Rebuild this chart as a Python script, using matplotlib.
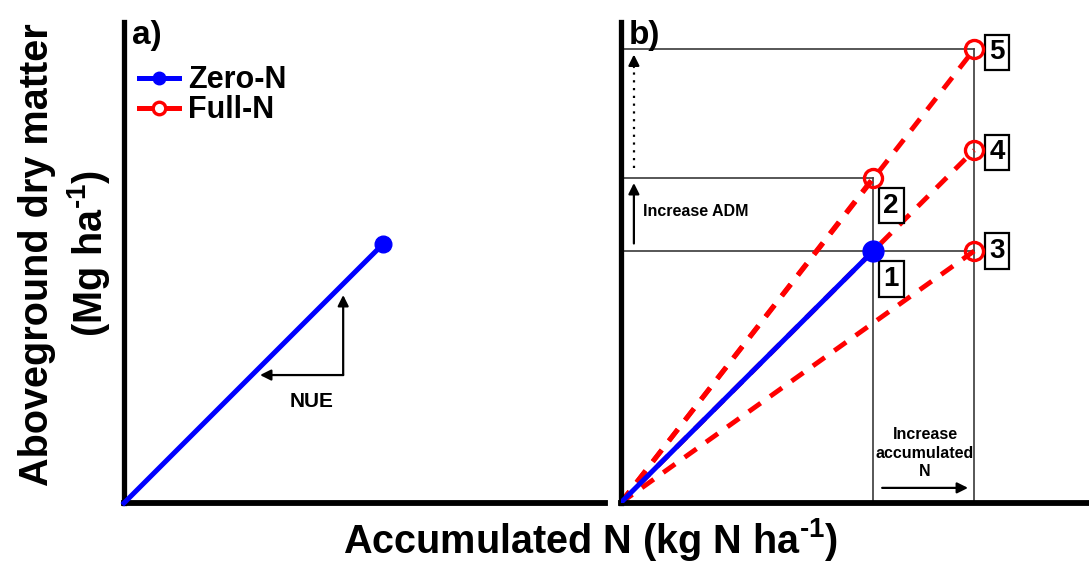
import matplotlib
matplotlib.use('Agg')
import matplotlib.pyplot as plt
from matplotlib.lines import Line2D

plt.rcParams['font.family'] = 'Liberation Sans'
plt.rcParams['font.weight'] = 'bold'
plt.rcParams['mathtext.fontset'] = 'custom'
plt.rcParams['mathtext.rm'] = 'Liberation Sans:bold'
plt.rcParams['mathtext.bf'] = 'Liberation Sans:bold'
plt.rcParams['mathtext.default'] = 'rm'

# conceptual values (arbitrary units)
zero_n_uptake = 100
zero_n_adm = 10
full_n_uptake = [100, 140, 140, 140]
full_n_adm = [12.9, 10, 14, 18]
full_n_ids = ['2', '3', '4', '5']

BLUE = '#0000ff'
RED = '#ff0000'
GREY = '#3a3a3a'

fig = plt.figure(figsize=(10.89, 5.66), dpi=100)
ax_a = fig.add_axes([0.1139, 0.1113, 0.4417, 0.8498])
ax_b = fig.add_axes([0.5698, 0.1113, 0.4302, 0.8498])

for ax in (ax_a, ax_b):
    for s in ('top', 'right'):
        ax.spines[s].set_visible(False)
    ax.spines['left'].set_linewidth(3.8)
    ax.spines['bottom'].set_linewidth(4.2)
    ax.set_xticks([])
    ax.set_yticks([])

ax_a.set_xlim(0, 185.7)
ax_a.set_ylim(0, 18.57)
ax_b.set_xlim(0, 185.5)
ax_b.set_ylim(0, 19.09)

# ---- panel a
ax_a.plot([0, zero_n_uptake], [0, zero_n_adm], color=BLUE, lw=3.6,
          marker='o', markevery=[1], ms=12, clip_on=False, zorder=3)
arrow = dict(arrowstyle='-|>', color='black', lw=1.6, mutation_scale=16,
             shrinkA=0, shrinkB=0)
ax_a.annotate('', xy=(52.5, 4.94), xytext=(84.6, 4.94), arrowprops=arrow)
ax_a.annotate('', xy=(84.6, 8.03), xytext=(84.6, 4.94), arrowprops=arrow)
ax_a.text(72.5, 3.9, 'NUE', ha='center', va='center', fontsize=15)
ax_a.text(0.016, 1.005, 'a)', transform=ax_a.transAxes, ha='left', va='top',
          fontsize=24)

handles = [Line2D([], [], color=BLUE, lw=3.6, marker='o', ms=9),
           Line2D([], [], color=RED, lw=3.6, marker='o', ms=9,
                  mfc='white', mew=2.4)]
ax_a.legend(handles, ['Zero-N', 'Full-N'], loc='upper left',
            bbox_to_anchor=(0.031, 0.91), frameon=False, fontsize=22,
            handlelength=1.3, handletextpad=0.3, labelspacing=0.0,
            borderpad=0, borderaxespad=0)

# ---- panel b: guide lines
guide_h = [(zero_n_adm, 140), (12.9, zero_n_uptake), (18, 140)]
guide_v = [(zero_n_uptake, 12.9), (140, 18)]
for y, x_end in guide_h:
    ax_b.plot([0, x_end], [y, y], color=GREY, lw=1.2, zorder=1)
for x, y_end in guide_v:
    ax_b.plot([x, x], [0, y_end], color=GREY, lw=1.2, zorder=1)

for x, y in zip(full_n_uptake, full_n_adm):
    ax_b.plot([0, x], [0, y], color=RED, lw=3.5, dashes=(3, 2.4), zorder=2)
    ax_b.plot([x], [y], 'o', color=RED, ms=13, mfc='none', mew=2.4,
              zorder=4, clip_on=False)
ax_b.plot([0, zero_n_uptake], [0, zero_n_adm], color=BLUE, lw=3.6, zorder=3)
ax_b.plot([zero_n_uptake], [zero_n_adm], 'o', color=BLUE, ms=15, zorder=5)

box = dict(boxstyle='square,pad=0.17', fc='white', ec='black', lw=1.6)
ax_b.annotate('1', (zero_n_uptake, zero_n_adm), xytext=(13, -20),
              textcoords='offset points', ha='center', va='center',
              fontsize=20, bbox=box)
offs = {'2': (13, -20), '3': (16.5, 0), '4': (16.5, -1.5), '5': (16.5, -2)}
for x, y, t in zip(full_n_uptake, full_n_adm, full_n_ids):
    ax_b.annotate(t, (x, y), xytext=offs[t], textcoords='offset points',
                  ha='center', va='center', fontsize=20, bbox=box)

ax_b.annotate('', xy=(5.3, 12.7), xytext=(5.3, 10.3), arrowprops=arrow)
ax_b.plot([5.3, 5.3], [13.3, 17.3], color='black', lw=1.6, ls=(0, (1, 2.5)))
ax_b.annotate('', xy=(5.3, 17.8), xytext=(5.3, 17.3), arrowprops=arrow)
ax_b.text(8.9, 11.55, 'Increase ADM', ha='left', va='center', fontsize=11.5)

ax_b.text(120.6, 1.98, 'Increase\naccumulated\nN', ha='center', va='center',
          fontsize=11.5, linespacing=1.3)
ax_b.annotate('', xy=(137.6, 0.6), xytext=(103.6, 0.6), arrowprops=arrow)
ax_b.text(0.018, 1.005, 'b)', transform=ax_b.transAxes, ha='left', va='top',
          fontsize=24)

# ---- axis titles
fig.text(0.034, 0.55, 'Aboveground dry matter', rotation=90, ha='center',
         va='center', fontsize=28.5)
fig.text(0.081, 0.553, r'(Mg ha$^{\text{-}1}$)', rotation=90, ha='center',
         va='center', fontsize=28.5)
fig.text(0.542, 0.046, r'Accumulated N (kg N ha$^{\text{-}1}$)', ha='center',
         va='center', fontsize=28.5)

fig.savefig('out.png', dpi=100)
